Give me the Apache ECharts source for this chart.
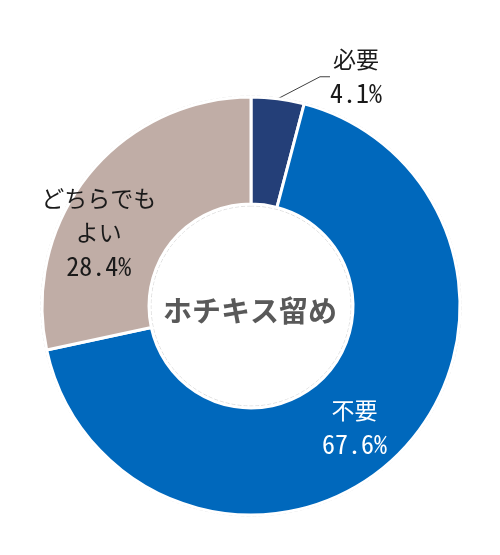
<!DOCTYPE html>
<html>
<head>
    <meta charset="UTF-8">
    <title>ホチキス留め</title>
    <style>
        html, body { margin: 0; padding: 0; background: #fff; }
        #donut { width: 500px; height: 555px; }
    </style>
</head>
<body>
    <div id="donut"></div>
    <script src="https://cdn.jsdelivr.net/npm/echarts@6/dist/echarts.min.js"></script>
    <script>
    // データ
    var categories = ['必要', '不要', 'どちらでも\nよい'];
    var values = [4.1, 67.6, 28.4];
    var colors = ['#243f78', '#0068bc', '#c0ada6'];
    var labelColors = ['#1a1a1a', '#ffffff', '#1a1a1a'];
    var centerText = 'ホチキス留め';

    var numFont = '"Noto Sans Mono CJK JP", "Liberation Sans Narrow", "Noto Sans CJK JP", sans-serif';
    var jpFont = '"Noto Sans CJK JP", sans-serif';

    var pieData = [];
    for (var i = 0; i < values.length; i++) {
        pieData.push({
            name: categories[i],
            value: values[i],
            itemStyle: { color: colors[i] },
            label: {
                position: i == 0 ? 'outside' : 'inside',
                color: labelColors[i]
            }
        });
    }

    var chart = echarts.init(document.getElementById('donut'));
    var option = {
        animation: false,
        title: {
            text: centerText,
            left: 'center',
            top: 291,
            textStyle: {
                fontFamily: jpFont,
                fontSize: 29,
                fontWeight: 'bold',
                color: '#595959'
            }
        },
        series: [
            {
                // 外側・内側の薄い破線
                type: 'pie',
                silent: true,
                center: [251, 306],
                radius: [100, 210],
                z: 1,
                label: { show: false },
                labelLine: { show: false },
                itemStyle: {
                    color: 'rgba(0,0,0,0)',
                    borderColor: '#dedede',
                    borderWidth: 1,
                    borderType: 'dashed'
                },
                data: [1]
            },
            {
                type: 'pie',
                center: [251, 306],
                radius: [102, 209],
                startAngle: 90,
                clockwise: true,
                z: 2,
                itemStyle: {
                    borderColor: '#ffffff',
                    borderWidth: 3
                },
                label: {
                    show: true,
                    formatter: function (p) {
                        return '{a|' + p.name.split('\n').join('}\n{a|') + '}\n{b|' + p.value.toFixed(1) + '%}';
                    },
                    rich: {
                        a: { fontFamily: jpFont, fontSize: 23, lineHeight: 34 },
                        b: { fontFamily: numFont, fontSize: 26, lineHeight: 34 }
                    },
                    align: 'center'
                },
                labelLine: {
                    show: true,
                    length: 20,
                    length2: 10,
                    lineStyle: { color: '#404040', width: 1 }
                },
                labelLayout: function (params) {
                    if (params.dataIndex == 0) {
                        return { x: 356, y: 76, align: 'center', verticalAlign: 'middle' };
                    }
                    if (params.dataIndex == 1) {
                        return { dx: -6, dy: 7 };
                    }
                    return { dx: -29, dy: 26 };
                },
                data: pieData
            }
        ]
    };
    chart.setOption(option);
    </script>
</body>
</html>
